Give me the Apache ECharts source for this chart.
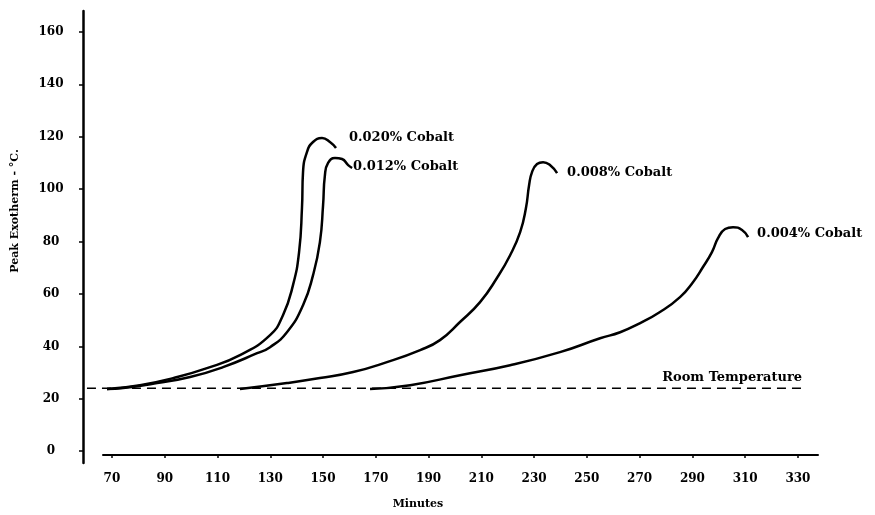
<!DOCTYPE html>
<html>
<head>
<meta charset="utf-8">
<script src="https://cdn.jsdelivr.net/npm/echarts@6/dist/echarts.min.js"></script>
<style>
  html, body { margin: 0; padding: 0; background: #fff; }
  #main { width: 875px; height: 515px; }
</style>
</head>
<body>
<div id="main"></div>
<script>
var FONT = '"DejaVu Serif", serif';

var xTicks = [70, 90, 110, 130, 150, 170, 190, 210, 230, 250, 270, 290, 310, 330];
var yTicks = [0, 20, 40, 60, 80, 100, 120, 140, 160];

var roomTempMin = [60.5, 332.7];
var roomTempVal = [24, 24];

var co020Min = [68.1, 80.6, 93.1, 106.0, 118.5, 129.9, 134.8, 138.6, 140.9, 142.0, 142.4, 143.9, 146.2, 149.6, 152.6, 154.9];
var co020Temp = [23.7, 25.2, 27.9, 31.7, 36.7, 44.3, 51.9, 63.4, 76.0, 92.8, 106.5, 114.2, 118.0, 119.5, 118.0, 115.7];

var co012Min = [68.1, 74.2, 87.1, 99.6, 112.1, 125.0, 129.9, 136.3, 142.4, 146.2, 148.8, 150.0, 150.7, 151.9, 154.5, 157.2, 159.5, 161.0];
var co012Temp = [23.7, 24.1, 26.0, 28.3, 32.1, 37.4, 39.7, 45.4, 55.7, 67.2, 79.8, 93.9, 105.4, 110.0, 111.9, 111.5, 109.2, 108.1];

var co008Min = [118.5, 136.3, 148.8, 161.4, 174.2, 186.8, 194.3, 201.9, 209.5, 215.9, 220.9, 224.7, 226.9, 228.1, 229.2, 231.1, 233.4, 236.0, 238.7];
var co008Temp = [23.7, 26.0, 27.9, 30.2, 34.0, 38.6, 42.4, 49.3, 56.9, 66.1, 74.8, 83.6, 92.8, 101.6, 106.5, 109.6, 110.3, 109.2, 106.1];

var co004Min = [167.8, 183.0, 201.9, 220.9, 239.8, 255.0, 262.6, 270.2, 277.7, 285.3, 290.2, 294.0, 297.4, 299.7, 302.4, 305.4, 308.8, 311.1];
var co004Temp = [23.7, 25.2, 29.0, 32.8, 37.8, 43.1, 45.4, 48.9, 53.1, 58.8, 64.5, 70.3, 76.0, 81.3, 84.8, 85.5, 84.4, 81.7];

function pairs(xs, ys) {
    return xs.map(function (x, i) { return [x, ys[i]]; });
}

function curve(name, xs, ys, offset) {
    return {
        name: name,
        type: 'line',
        xAxisIndex: 0,
        yAxisIndex: 0,
        data: pairs(xs, ys),
        showSymbol: false,
        smooth: 0.5,
        lineStyle: { color: '#000', width: 2.5 },
        endLabel: {
            show: true,
            formatter: name,
            distance: 0,
            offset: offset,
            color: '#000',
            fontFamily: FONT,
            fontWeight: 'bold',
            fontSize: 13
        }
    };
}

var chart = echarts.init(document.getElementById('main'));
var option = {
    animation: false,
    backgroundColor: '#fff',
    grid: [
        { left: 83, right: 57, top: 11, bottom: 52 },
        { left: 103, right: 57, top: 11, bottom: 59 }
    ],
    xAxis: [{
        gridIndex: 0,
        type: 'value',
        min: 59,
        max: 337.6,
        show: false
    }, {
        gridIndex: 1,
        type: 'value',
        min: 66.6,
        max: 337.6,
        name: 'Minutes',
        nameLocation: 'middle',
        nameGap: 44,
        nameTextStyle: { color: '#000', fontFamily: FONT, fontWeight: 'bold', fontSize: 11, padding: [0, 85, 0, 0] },
        splitLine: { show: false },
        axisLine: { lineStyle: { color: '#000', width: 2 } },
        axisTick: { length: 3, customValues: xTicks, lineStyle: { color: '#000', width: 1.5 } },
        axisLabel: { customValues: xTicks, margin: 18, color: '#000', fontFamily: FONT, fontWeight: 'bold', fontSize: 12 }
    }],
    yAxis: [{
        gridIndex: 0,
        type: 'value',
        min: -4.5,
        max: 168,
        name: 'Peak Exotherm - °C.',
        nameLocation: 'middle',
        nameGap: 62,
        nameTextStyle: { color: '#000', fontFamily: FONT, fontWeight: 'bold', fontSize: 11, padding: [0, 0, 0, 52] },
        splitLine: { show: false },
        axisLine: { show: true, lineStyle: { color: '#000', width: 2.5 } },
        axisTick: { show: true, length: 4, customValues: yTicks, lineStyle: { color: '#000', width: 1.5 } },
        axisLabel: { customValues: yTicks, margin: 32, align: 'center', color: '#000', fontFamily: FONT, fontWeight: 'bold', fontSize: 12 }
    }, {
        gridIndex: 1,
        type: 'value',
        show: false
    }],
    series: [
        {
            name: 'Room Temperature',
            type: 'line',
            data: pairs(roomTempMin, roomTempVal),
            showSymbol: false,
            lineStyle: { color: '#000', width: 1.5, type: [9, 6] },
            endLabel: {
                show: true,
                formatter: 'Room Temperature',
                distance: 0,
                align: 'right',
                offset: [-3, -11],
                color: '#000',
                fontFamily: FONT,
                fontWeight: 'bold',
                fontSize: 13
            }
        },
        curve('0.020% Cobalt', co020Min, co020Temp, [13, -10]),
        curve('0.012% Cobalt', co012Min, co012Temp, [1, -1]),
        curve('0.008% Cobalt', co008Min, co008Temp, [10, -1]),
        curve('0.004% Cobalt', co004Min, co004Temp, [9, -4])
    ]
};
chart.setOption(option);
</script>
</body>
</html>
